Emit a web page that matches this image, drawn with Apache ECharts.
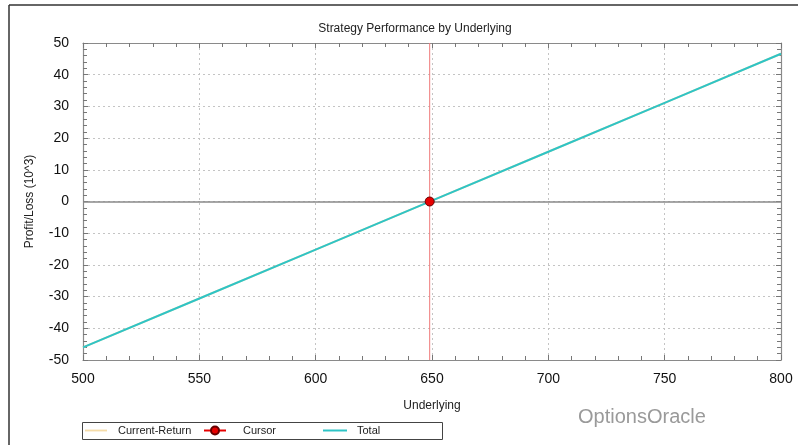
<!DOCTYPE html>
<html>
<head>
<meta charset="utf-8">
<script src="https://cdn.jsdelivr.net/npm/echarts@6/dist/echarts.min.js"></script>
<style>html,body{margin:0;padding:0;background:#fff}#c{width:798px;height:445px}</style>
</head>
<body>
<div id="c"></div>
<script>
var underlying = [500, 550, 600, 650, 700, 750, 800];
var totalPL = [-46.0, -30.6, -15.2, 0.3, 15.7, 31.1, 46.6];
var currentReturn = [-46.0, -30.6, -15.2, 0.3, 15.7, 31.1, 46.6];
var cursorX = [649];
var cursorY = [0];
var xTicks = [500, 550, 600, 650, 700, 750, 800];
var yTicks = [-50, -40, -30, -20, -10, 0, 10, 20, 30, 40, 50];

var chart = echarts.init(document.getElementById('c'), null, {renderer: 'canvas'});
var font = 'Liberation Sans, Arial, sans-serif';
function pairs(xs, ys){ return xs.map(function(x,i){ return [x, ys[i]]; }); }
function axisLine(){ return {show: true, onZero: false, lineStyle: {color: '#8a8a8a', width: 1.2}}; }
var split = {show: true, lineStyle: {color: '#c4c4c4', width: 1, type: [2, 3]}};
var tick = {show: true, inside: true, length: 5, lineStyle: {color: '#777'}};
var minor = {show: true, splitNumber: 5, length: 4, lineStyle: {color: '#777'}};
var lineIcon = 'path://M0,0L24,0L24,2L0,2Z';
function legText(pl){ return {fontFamily: font, fontSize: 11, color: '#222', padding: [0, 0, 0, pl]}; }
var option = {
  backgroundColor: '#fff',
  animation: false,
  title: {text: 'Strategy Performance by Underlying', left: 410, top: 18, textAlign: 'center',
    textStyle: {fontFamily: font, fontSize: 12, fontWeight: 'normal', color: '#222'}},
  grid: {left: 83, right: 17, top: 43, bottom: 85},
  xAxis: [{
    type: 'value', min: xTicks[0], max: xTicks[xTicks.length-1], interval: 50,
    name: 'Underlying', nameLocation: 'middle', nameGap: 40,
    nameTextStyle: {fontFamily: font, fontSize: 12, color: '#222'},
    axisLine: axisLine(), axisTick: tick, minorTick: minor,
    axisLabel: {fontFamily: font, fontSize: 14, color: '#111', margin: 12},
    splitLine: split
  }, {
    type: 'value', position: 'top', min: xTicks[0], max: xTicks[xTicks.length-1], interval: 50,
    axisLine: axisLine(), axisTick: tick, minorTick: minor,
    axisLabel: {show: false}, splitLine: {show: false}
  }],
  yAxis: [{
    type: 'value', position: 'left', min: yTicks[0], max: yTicks[yTicks.length-1], interval: 10,
    name: 'Profit/Loss (10^3)', nameLocation: 'middle', nameGap: 47,
    nameTextStyle: {fontFamily: font, fontSize: 12, color: '#222'},
    axisLine: axisLine(), axisTick: tick, minorTick: minor,
    axisLabel: {fontFamily: font, fontSize: 14, color: '#111', margin: 14},
    splitLine: split
  }, {
    type: 'value', position: 'right', min: yTicks[0], max: yTicks[yTicks.length-1], interval: 10,
    axisLine: axisLine(), axisTick: tick, minorTick: minor,
    axisLabel: {show: false}, splitLine: {show: false}
  }],
  legend: [
    {left: 85, top: 425, itemWidth: 22, itemHeight: 10, padding: 0, textStyle: legText(6),
     data: [{name: 'Current-Return', icon: lineIcon}]},
    {left: 203, top: 425, itemWidth: 22, itemHeight: 10, padding: 0, textStyle: legText(12),
     data: ['Cursor']},
    {left: 323, top: 425, itemWidth: 24, itemHeight: 10, padding: 0, textStyle: legText(5),
     data: [{name: 'Total', icon: lineIcon}]}
  ],
  series: [{
    name: 'Current-Return', type: 'line', symbol: 'none', z: 1,
    data: pairs(underlying, currentReturn),
    lineStyle: {color: '#f5dca8', width: 2}, itemStyle: {color: '#f5dca8'}
  }, {
    name: 'Total', type: 'line', symbol: 'none', z: 3,
    data: pairs(underlying, totalPL),
    lineStyle: {color: '#2ec4c6', width: 2}, itemStyle: {color: '#2ec4c6'},
    markLine: {
      silent: true, symbol: 'none', label: {show: false},
      data: [
        {yAxis: cursorY[0], lineStyle: {color: '#8a8a8a', width: 1.5, type: 'solid'}}
      ]
    }
  }, {
    name: 'CursorLine', type: 'line', symbol: 'none', z: 2,
    data: [[cursorX[0], yTicks[0]], [cursorX[0], yTicks[yTicks.length-1]]],
    lineStyle: {color: '#f07a7a', width: 1}
  }, {
    name: 'Cursor', type: 'line', symbol: 'circle', symbolSize: 9, z: 5,
    data: pairs(cursorX, cursorY),
    lineStyle: {color: '#e60000', width: 1}, itemStyle: {color: '#e60000', borderColor: '#600', borderWidth: 1}
  }],
  graphic: [
    {type: 'line', shape: {x1: 9, y1: 5, x2: 798, y2: 5}, style: {stroke: '#333', lineWidth: 1.5}},
    {type: 'line', shape: {x1: 9, y1: 5, x2: 9, y2: 445}, style: {stroke: '#333', lineWidth: 1.5}},
    {type: 'rect', shape: {x: 82.5, y: 422.5, width: 360, height: 17}, style: {fill: 'none', stroke: '#444', lineWidth: 1}},
    {type: 'text', left: 578, top: 407, style: {text: 'OptionsOracle', fill: '#9a9a9a', font: '20px Liberation Sans, Arial, sans-serif'}}
  ]
};
chart.setOption(option);
</script>
</body>
</html>
